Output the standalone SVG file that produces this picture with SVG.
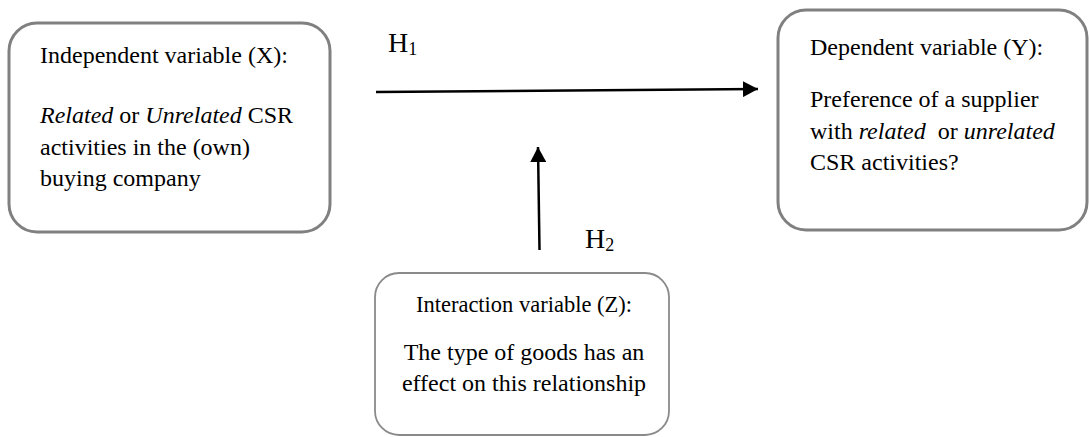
<svg xmlns="http://www.w3.org/2000/svg" width="1089" height="437" viewBox="0 0 1089 437">
<style>
.box{fill:#fff;stroke:#808080;stroke-width:3}
.box3{fill:#fff;stroke:#8a8a8a;stroke-width:1.8}
.t{font-family:"Liberation Serif","Times New Roman",serif;font-size:24px;fill:#000}
.h{font-family:"Liberation Serif","Times New Roman",serif;font-size:28px;fill:#000}
.sub{font-size:18px}
.conn{stroke:#000;stroke-width:2.5;fill:none}
</style>
<defs>
<marker id="ah" markerUnits="userSpaceOnUse" markerWidth="16" markerHeight="16" refX="15" refY="8" orient="auto">
<path d="M0,0 L15,8 L0,16 Z" fill="#000"/>
</marker>
</defs>
<rect width="1089" height="437" fill="#fff"/>
<g id="nodeX">
<rect class="box" x="9" y="23" width="321" height="209" rx="28" ry="28"/>
<text class="t" x="40" y="63">Independent variable (X):</text>
<text class="t" x="40" y="123"><tspan font-style="italic">Related</tspan> or <tspan font-style="italic">Unrelated</tspan> CSR</text>
<text class="t" x="40" y="155">activities in the (own)</text>
<text class="t" x="40" y="186">buying company</text>
</g>
<g id="nodeY">
<rect class="box" x="778" y="10" width="309" height="220" rx="28" ry="28"/>
<text class="t" x="810" y="55">Dependent variable (Y):</text>
<text class="t" x="810" y="107">Preference of a supplier</text>
<text class="t" x="810" y="139" xml:space="preserve">with <tspan font-style="italic">related</tspan>  or <tspan font-style="italic">unrelated</tspan></text>
<text class="t" x="810" y="170">CSR activities?</text>
</g>
<g id="nodeZ">
<rect class="box3" x="375" y="273" width="294" height="162" rx="24" ry="24"/>
<text class="t" x="524" y="312" text-anchor="middle" style="font-size:22.5px">Interaction variable (Z):</text>
<text class="t" x="524" y="360" text-anchor="middle">The type of goods has an</text>
<text class="t" x="524" y="391" text-anchor="middle">effect on this relationship</text>
</g>
<g id="connectors">
<line class="conn" x1="376" y1="92" x2="758" y2="89" marker-end="url(#ah)"/>
<line class="conn" x1="539.5" y1="250" x2="538" y2="147" marker-end="url(#ah)"/>
</g>
<g id="labels">
<text class="h" x="388" y="52">H<tspan class="sub" dy="3">1</tspan></text>
<text class="h" x="585" y="248">H<tspan class="sub" dy="3">2</tspan></text>
</g>
</svg>
